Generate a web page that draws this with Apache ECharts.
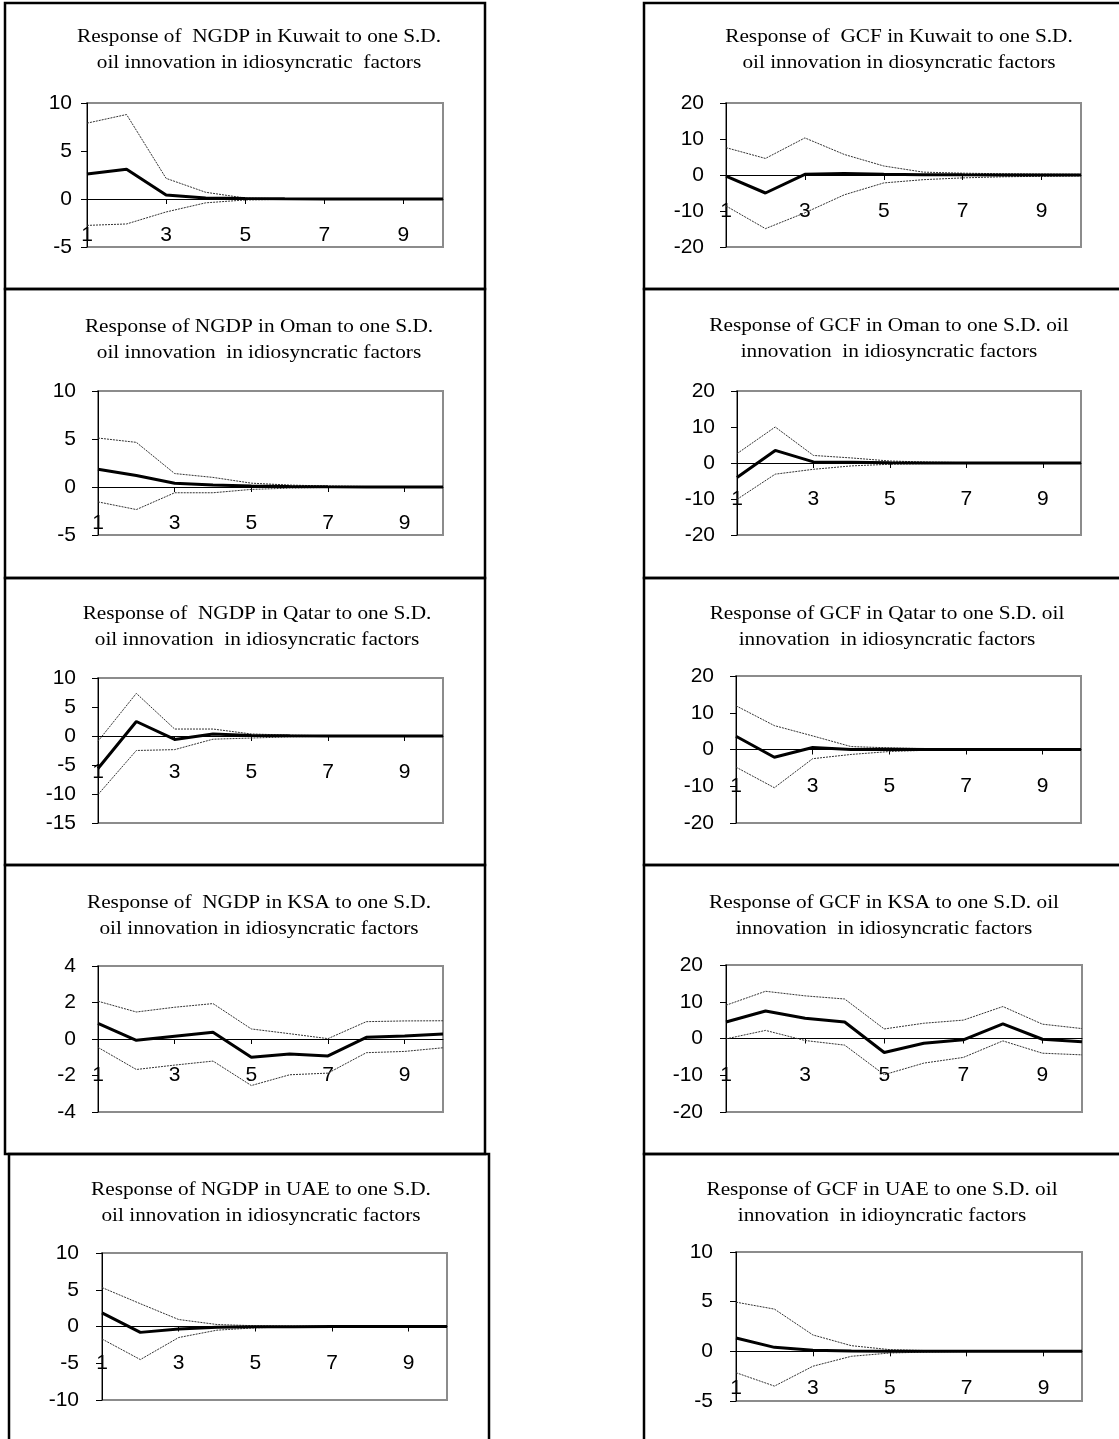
<!DOCTYPE html>
<html><head><meta charset="utf-8">
<script src="https://cdn.jsdelivr.net/npm/echarts@6/dist/echarts.min.js"></script>
<style>html,body{margin:0;padding:0;background:#fff;overflow:hidden}#c{width:1119px;height:1439px}</style>
</head><body><div id="c"></div>
<script>
// ---- categories (forecast horizon) ----
const periods = ['1','2','3','4','5','6','7','8','9','10'];

// ---- y tick labels per panel ----
const yTicksNgdpKuwait = [-5, 0, 5, 10];
const yTicksGcfKuwait  = [-20, -10, 0, 10, 20];
const yTicksNgdpOman   = [-5, 0, 5, 10];
const yTicksGcfOman    = [-20, -10, 0, 10, 20];
const yTicksNgdpQatar  = [-15, -10, -5, 0, 5, 10];
const yTicksGcfQatar   = [-20, -10, 0, 10, 20];
const yTicksNgdpKsa    = [-4, -2, 0, 2, 4];
const yTicksGcfKsa     = [-20, -10, 0, 10, 20];
const yTicksNgdpUae    = [-10, -5, 0, 5, 10];
const yTicksGcfUae     = [-5, 0, 5, 10];

// ---- series values ----
const ngdpKuwait   = [2.6, 3.1, 0.42, 0.1, 0.05, 0.02, 0, 0, 0, 0];
const ngdpKuwaitUp = [7.9, 8.8, 2.15, 0.7, 0.1, 0.03, 0.02, 0.01, 0.01, 0.01];
const ngdpKuwaitLo = [-2.75, -2.6, -1.35, -0.4, -0.1, -0.03, -0.02, -0.01, -0.01, -0.01];

const gcfKuwait   = [-0.3, -5.0, 0.2, 0.4, 0.2, 0.1, 0.05, 0.02, 0.01, 0];
const gcfKuwaitUp = [7.6, 4.6, 10.3, 5.7, 2.5, 0.8, 0.5, 0.35, 0.25, 0.2];
const gcfKuwaitLo = [-8.6, -14.9, -10.5, -5.5, -2.2, -1.3, -0.8, -0.5, -0.35, -0.25];

const ngdpOman   = [1.85, 1.2, 0.4, 0.2, 0.1, 0.05, 0.02, 0.01, 0, 0];
const ngdpOmanUp = [5.1, 4.65, 1.4, 1.0, 0.4, 0.2, 0.1, 0.05, 0.02, 0.02];
const ngdpOmanLo = [-1.55, -2.35, -0.6, -0.6, -0.25, -0.12, -0.05, -0.02, -0.02, -0.01];

const gcfOman   = [-4.0, 3.5, 0.3, 0.2, 0.1, 0.03, 0.01, 0, 0, 0];
const gcfOmanUp = [2.6, 10.0, 2.1, 1.4, 0.55, 0.25, 0.1, 0.05, 0.05, 0.03];
const gcfOmanLo = [-10.1, -3.1, -1.75, -0.8, -0.35, -0.15, -0.08, -0.03, -0.03, -0.02];

const ngdpQatar   = [-5.6, 2.5, -0.6, 0.35, 0.1, 0.05, 0.01, 0, 0, 0];
const ngdpQatarUp = [-0.9, 7.35, 1.2, 1.2, 0.35, 0.15, 0.05, 0.02, 0.02, 0.01];
const ngdpQatarLo = [-10.1, -2.5, -2.35, -0.55, -0.35, -0.15, -0.05, -0.02, -0.02, -0.01];

const gcfQatar   = [3.6, -2.1, 0.55, 0, 0.1, 0.03, 0.01, 0, 0, 0];
const gcfQatarUp = [11.9, 6.5, 3.7, 0.8, 0.45, 0.2, 0.1, 0.05, 0.05, 0.03];
const gcfQatarLo = [-4.8, -10.4, -2.5, -1.35, -0.55, -0.2, -0.08, -0.03, -0.03, -0.02];

const ngdpKsa   = [0.85, -0.07, 0.15, 0.37, -1.0, -0.82, -0.93, 0.09, 0.16, 0.27];
const ngdpKsaUp = [2.07, 1.48, 1.74, 1.94, 0.55, 0.29, 0.02, 0.95, 0.99, 1.0];
const ngdpKsaLo = [-0.46, -1.67, -1.43, -1.21, -2.55, -1.96, -1.87, -0.75, -0.68, -0.48];

const gcfKsa   = [4.5, 7.5, 5.5, 4.5, -3.8, -1.3, -0.35, 4.0, -0.2, -0.9];
const gcfKsaUp = [9.05, 12.85, 11.6, 10.75, 2.6, 4.15, 5.0, 8.7, 3.9, 2.7];
const gcfKsaLo = [-0.1, 2.2, -0.55, -1.8, -9.85, -6.7, -5.15, -0.65, -4.0, -4.45];

const ngdpUae   = [1.85, -0.8, -0.35, -0.1, -0.05, -0.02, 0, 0, 0, 0];
const ngdpUaeUp = [5.3, 3.1, 0.95, 0.27, 0.1, 0.05, 0.02, 0.02, 0.01, 0.01];
const ngdpUaeLo = [-1.7, -4.5, -1.5, -0.5, -0.18, -0.05, -0.02, -0.02, -0.01, -0.01];

const gcfUae   = [1.35, 0.4, 0.1, 0.03, 0.01, 0, 0, 0, 0, 0];
const gcfUaeUp = [4.95, 4.25, 1.65, 0.57, 0.17, 0.07, 0.02, 0.02, 0.01, 0.01];
const gcfUaeLo = [-2.15, -3.5, -1.5, -0.5, -0.17, -0.07, -0.02, -0.02, -0.01, -0.01];

// ---- titles ----
const titles = [
  'Response of  NGDP in Kuwait to one S.D.\noil innovation in idiosyncratic  factors',
  'Response of  GCF in Kuwait to one S.D.\noil innovation in diosyncratic factors',
  'Response of NGDP in Oman to one S.D.\noil innovation  in idiosyncratic factors',
  'Response of GCF in Oman to one S.D. oil\ninnovation  in idiosyncratic factors',
  'Response of  NGDP in Qatar to one S.D.\noil innovation  in idiosyncratic factors',
  'Response of GCF in Qatar to one S.D. oil\ninnovation  in idiosyncratic factors',
  'Response of  NGDP in KSA to one S.D.\noil innovation in idiosyncratic factors',
  'Response of GCF in KSA to one S.D. oil\ninnovation  in idiosyncratic factors',
  'Response of NGDP in UAE to one S.D.\noil innovation in idiosyncratic factors',
  'Response of GCF in UAE to one S.D. oil\ninnovation  in idioyncratic factors'
];

// ---- panel wiring (data) ----
const panelData = [
  [yTicksNgdpKuwait, ngdpKuwait, ngdpKuwaitUp, ngdpKuwaitLo],
  [yTicksGcfKuwait, gcfKuwait, gcfKuwaitUp, gcfKuwaitLo],
  [yTicksNgdpOman, ngdpOman, ngdpOmanUp, ngdpOmanLo],
  [yTicksGcfOman, gcfOman, gcfOmanUp, gcfOmanLo],
  [yTicksNgdpQatar, ngdpQatar, ngdpQatarUp, ngdpQatarLo],
  [yTicksGcfQatar, gcfQatar, gcfQatarUp, gcfQatarLo],
  [yTicksNgdpKsa, ngdpKsa, ngdpKsaUp, ngdpKsaLo],
  [yTicksGcfKsa, gcfKsa, gcfKsaUp, gcfKsaLo],
  [yTicksNgdpUae, ngdpUae, ngdpUaeUp, ngdpUaeLo],
  [yTicksGcfUae, gcfUae, gcfUaeUp, gcfUaeLo]
];

// ---- layout (positions / sizes) ----
const layout = [
  {l: 87,  t: 103,  w: 356, h: 144, tx: 259, ty: 35,   lm: 15},
  {l: 726, t: 103,  w: 355, h: 144, tx: 899, ty: 35,   lm: 22},
  {l: 98,  t: 391,  w: 345, h: 144, tx: 259, ty: 325,  lm: 22},
  {l: 737, t: 391,  w: 344, h: 144, tx: 889, ty: 324,  lm: 22},
  {l: 98,  t: 678,  w: 345, h: 145, tx: 257, ty: 612,  lm: 22},
  {l: 736, t: 676,  w: 345, h: 147, tx: 887, ty: 612,  lm: 22},
  {l: 98,  t: 966,  w: 345, h: 146, tx: 259, ty: 901,  lm: 22},
  {l: 726, t: 965,  w: 356, h: 147, tx: 884, ty: 901,  lm: 23},
  {l: 102, t: 1253, w: 345, h: 147, tx: 261, ty: 1188, lm: 23},
  {l: 736, t: 1252, w: 346, h: 149, tx: 882, ty: 1188, lm: 23}
];
const boxes = [
  [5, 3, 480, 286], [5, 289, 480, 289], [5, 578, 480, 287], [5, 865, 480, 289], [9, 1154, 480, 320],
  [644, 3, 500, 286], [644, 289, 500, 289], [644, 578, 500, 287], [644, 865, 500, 289], [644, 1154, 500, 320]
];

const axisFont = 'Liberation Sans, Arial, sans-serif';
const titleFont = 'Liberation Serif, Times New Roman, serif';
const labelGap = 26; // distance from zero line to top of category labels

const grids = [], xAxes = [], yAxes = [], series = [], graphics = [];
boxes.forEach(b => graphics.push({
  type: 'rect', shape: {x: b[0], y: b[1], width: b[2], height: b[3]},
  style: {fill: 'none', stroke: '#000', lineWidth: 2.5}, z: 0, silent: true
}));
panelData.forEach((pd, i) => {
  const L = layout[i];
  const ticks = pd[0];
  const yMin = ticks[0], yMax = ticks[ticks.length - 1];
  const zeroAboveBottom = L.h * (0 - yMin) / (yMax - yMin);
  grids.push({left: L.l, top: L.t, width: L.w, height: L.h, show: true,
    borderColor: '#8c8c8c', borderWidth: 2, backgroundColor: '#fff', containLabel: false});
  xAxes.push({gridIndex: i, type: 'category', data: periods, boundaryGap: false,
    axisLine: {show: true, onZero: true, lineStyle: {color: '#000', width: 1}},
    axisTick: {show: true, interval: 1, length: 5, lineStyle: {color: '#000', width: 1}},
    axisLabel: {interval: 1, margin: labelGap - zeroAboveBottom, fontFamily: axisFont, fontSize: 21,
      color: '#000', hideOverlap: false},
    splitLine: {show: false}});
  yAxes.push({gridIndex: i, type: 'value', min: yMin, max: yMax,
    interval: ticks[1] - ticks[0],
    axisLine: {show: true, onZero: false, lineStyle: {color: '#000', width: 1}},
    axisTick: {show: true, length: 6, lineStyle: {color: '#000', width: 1}},
    axisLabel: {margin: L.lm, fontFamily: axisFont, fontSize: 21, color: '#000', showMinLabel: true, showMaxLabel: true},
    splitLine: {show: false}});
  const band = d => ({type: 'line', xAxisIndex: i, yAxisIndex: i, data: d, symbol: 'none',
    lineStyle: {color: '#333', width: 1, type: [2, 1]}, z: 3, silent: true});
  series.push(band(pd[2]), band(pd[3]));
  series.push({type: 'line', xAxisIndex: i, yAxisIndex: i, data: pd[1], symbol: 'none',
    lineStyle: {color: '#000', width: 3}, z: 4, silent: true});
  graphics.push({type: 'text', x: L.tx, y: L.ty - 11, scaleX: 1.12, z: 10, silent: true,
    style: {text: titles[i], fontFamily: titleFont, fontSize: 19, lineHeight: 26,
      fill: '#000', textAlign: 'center', textVerticalAlign: 'top'}});
});

const chart = echarts.init(document.getElementById('c'), null, {renderer: 'canvas'});
chart.setOption({
  animation: false,
  backgroundColor: '#fff',
  grid: grids, xAxis: xAxes, yAxis: yAxes, series: series,
  graphic: {elements: graphics}
});
</script></body></html>
